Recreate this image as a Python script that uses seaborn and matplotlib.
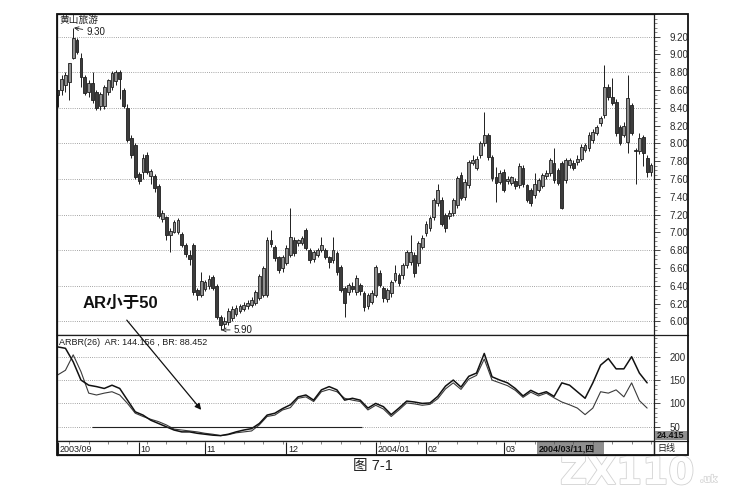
import numpy as np
import pandas as pd
import seaborn as sns
import matplotlib.pyplot as plt
import matplotlib.patheffects as pe
from matplotlib.patches import Rectangle, FancyArrowPatch
from matplotlib.lines import Line2D
from matplotlib.ticker import MultipleLocator

# daily candles, 2003/09 .. 2004/04 (黄山旅游)
opens = [8.60, 8.60, 8.66, 8.69, 8.96, 9.16, 8.96, 8.75, 8.58, 8.68,
         8.58, 8.42, 8.42, 8.58, 8.64, 8.70, 8.80, 8.60, 8.40, 8.06,
         7.98, 7.66, 7.68, 7.87, 7.64, 7.64, 7.52, 7.15, 7.17, 6.97,
         7.01, 7.00, 6.98, 6.86, 6.75, 6.86, 6.35, 6.30, 6.37, 6.40,
         6.50, 6.40, 6.05, 5.97, 5.99, 6.04, 6.08, 6.12, 6.14, 6.17,
         6.18, 6.21, 6.26, 6.30, 6.30, 6.92, 6.84, 6.72, 6.60, 6.66,
         6.75, 6.92, 6.88, 6.88, 7.03, 6.80, 6.70, 6.75, 6.80, 6.80,
         6.72, 6.69, 6.77, 6.61, 6.38, 6.33, 6.40, 6.33, 6.41, 6.32,
         6.17, 6.22, 6.30, 6.55, 6.38, 6.25, 6.32, 6.47, 6.52, 6.52,
         6.63, 6.67, 6.75, 6.66, 6.84, 6.99, 7.05, 7.17, 7.33, 7.36,
         7.20, 7.18, 7.22, 7.31, 7.65, 7.40, 7.53, 7.78, 7.73, 7.87,
         8.00, 8.09, 7.85, 7.62, 7.57, 7.68, 7.58, 7.56, 7.58, 7.53,
         7.73, 7.53, 7.48, 7.42, 7.48, 7.52, 7.63, 7.67, 7.78, 7.70,
         7.78, 7.59, 7.76, 7.78, 7.79, 7.83, 7.93, 7.95, 8.04, 8.12,
         8.23, 8.32, 8.64, 8.52, 8.47, 8.18, 8.10, 8.02, 8.43, 7.93,
         7.91, 8.07, 7.84, 7.68]
highs = [8.60, 8.77, 8.80, 8.91, 9.30, 9.19, 9.02, 8.77, 8.71, 8.80,
         8.60, 8.58, 8.66, 8.73, 8.81, 8.83, 8.83, 8.62, 8.44, 8.10,
         8.00, 7.68, 7.88, 7.90, 7.71, 7.66, 7.55, 7.25, 7.19, 7.05,
         7.14, 7.16, 7.00, 6.88, 6.80, 6.88, 6.38, 6.56, 6.47, 6.52,
         6.52, 6.42, 6.07, 6.05, 6.15, 6.17, 6.18, 6.20, 6.22, 6.24,
         6.27, 6.35, 6.53, 6.62, 6.95, 7.03, 6.86, 6.74, 6.75, 6.86,
         7.28, 6.95, 6.93, 6.96, 7.05, 6.82, 6.80, 6.82, 6.95, 6.82,
         6.74, 6.95, 6.79, 6.63, 6.40, 6.43, 6.44, 6.52, 6.43, 6.34,
         6.32, 6.35, 6.63, 6.58, 6.40, 6.38, 6.47, 6.63, 6.55, 6.66,
         6.80, 6.97, 6.78, 6.90, 6.97, 7.13, 7.19, 7.39, 7.55, 7.40,
         7.22, 7.25, 7.39, 7.64, 7.68, 7.60, 7.82, 7.87, 7.86, 8.03,
         8.35, 8.12, 7.87, 7.74, 7.70, 7.71, 7.63, 7.64, 7.61, 7.78,
         7.76, 7.55, 7.50, 7.67, 7.61, 7.67, 7.70, 7.84, 7.95, 7.73,
         7.80, 7.84, 7.84, 7.82, 7.87, 7.99, 8.00, 8.13, 8.16, 8.21,
         8.31, 8.88, 8.67, 8.74, 8.50, 8.21, 8.24, 8.77, 8.45, 7.95,
         8.12, 8.10, 7.87, 7.78]
lows = [8.41, 8.55, 8.58, 8.49, 8.95, 9.00, 8.63, 8.55, 8.52, 8.46,
        8.38, 8.38, 8.39, 8.55, 8.60, 8.66, 8.50, 8.40, 8.02, 7.84,
        7.60, 7.54, 7.60, 7.66, 7.54, 7.46, 7.16, 7.12, 6.92, 6.78,
        6.99, 6.98, 6.84, 6.72, 6.64, 6.30, 6.24, 6.27, 6.34, 6.37,
        6.35, 6.03, 5.90, 5.93, 5.96, 6.00, 6.06, 6.10, 6.12, 6.14,
        6.16, 6.18, 6.24, 6.28, 6.28, 6.84, 6.68, 6.55, 6.56, 6.63,
        6.72, 6.74, 6.85, 6.86, 6.80, 6.66, 6.67, 6.72, 6.78, 6.70,
        6.60, 6.66, 6.52, 6.33, 6.05, 6.30, 6.33, 6.30, 6.30, 6.12,
        6.14, 6.20, 6.28, 6.39, 6.22, 6.22, 6.28, 6.44, 6.40, 6.48,
        6.60, 6.64, 6.50, 6.62, 6.81, 6.96, 7.02, 7.14, 7.30, 7.07,
        7.00, 7.15, 7.19, 7.28, 7.36, 7.37, 7.50, 7.76, 7.70, 7.84,
        7.97, 7.82, 7.58, 7.34, 7.55, 7.45, 7.55, 7.53, 7.49, 7.50,
        7.51, 7.34, 7.30, 7.39, 7.45, 7.50, 7.60, 7.64, 7.56, 7.53,
        7.26, 7.56, 7.73, 7.70, 7.76, 7.80, 7.90, 7.92, 8.01, 8.09,
        8.20, 8.29, 8.49, 8.43, 8.08, 7.98, 8.07, 7.89, 8.09, 7.55,
        7.88, 7.75, 7.62, 7.63]
closes = [8.55, 8.73, 8.77, 8.90, 9.18, 9.03, 8.75, 8.57, 8.68, 8.49,
          8.40, 8.56, 8.64, 8.71, 8.79, 8.80, 8.72, 8.42, 8.04, 7.87,
          7.62, 7.58, 7.84, 7.68, 7.69, 7.50, 7.18, 7.22, 6.97, 7.02,
          7.12, 7.14, 6.86, 6.76, 6.70, 6.33, 6.30, 6.45, 6.44, 6.48,
          6.38, 6.05, 5.96, 6.00, 6.12, 6.14, 6.15, 6.17, 6.19, 6.21,
          6.24, 6.33, 6.51, 6.60, 6.92, 6.87, 6.71, 6.58, 6.72, 6.83,
          6.95, 6.77, 6.91, 6.94, 6.82, 6.69, 6.78, 6.80, 6.86, 6.72,
          6.67, 6.80, 6.56, 6.35, 6.21, 6.41, 6.36, 6.49, 6.34, 6.16,
          6.30, 6.32, 6.61, 6.41, 6.26, 6.35, 6.44, 6.55, 6.43, 6.63,
          6.78, 6.78, 6.54, 6.88, 6.94, 7.10, 7.16, 7.36, 7.48, 7.10,
          7.05, 7.22, 7.36, 7.61, 7.39, 7.57, 7.79, 7.81, 7.83, 8.00,
          8.09, 7.85, 7.61, 7.56, 7.67, 7.48, 7.60, 7.62, 7.52, 7.75,
          7.54, 7.36, 7.33, 7.54, 7.59, 7.65, 7.67, 7.81, 7.59, 7.56,
          7.28, 7.81, 7.81, 7.73, 7.83, 7.96, 7.98, 8.10, 8.13, 8.18,
          8.29, 8.64, 8.52, 8.46, 8.12, 8.01, 8.20, 8.51, 8.12, 7.91,
          8.06, 7.89, 7.68, 7.76]

# ARBR(26), read every second trading day
ar_vals = [221, 218, 189, 150, 139, 136, 132, 139, 132, 107,
           82, 75, 64, 57, 50, 43, 39, 39, 36, 34,
           32, 31, 34, 39, 43, 46, 57, 75, 79, 89,
           97, 114, 118, 107, 129, 136, 129, 107, 111, 107,
           90, 100, 93, 76, 90, 105, 103, 100, 101, 115,
           137, 150, 135, 158, 165, 207, 157, 150, 144, 132,
           116, 128, 120, 125, 115, 144, 139, 125, 111, 144,
           182, 196, 174, 174, 200, 165, 144]
br_vals = [161, 171, 204, 168, 122, 118, 122, 125, 118, 100,
           79, 72, 66, 61, 54, 45, 43, 41, 39, 36,
           34, 31, 33, 37, 39, 41, 54, 72, 75, 86,
           91, 111, 114, 104, 125, 130, 125, 111, 107, 104,
           86, 96, 88, 72, 86, 101, 99, 96, 98, 110,
           131, 144, 130, 152, 160, 195, 150, 144, 138, 128,
           113, 124, 116, 122, 112, 103, 97, 90, 76, 90,
           125, 122, 129, 114, 144, 106, 90]

month_pos = [0, 21, 38, 59, 82, 95, 115]
month_labels = ["2003/09", "10", "11", "12", "2004/01", "02", "03"]
price_ticks = [9.20, 9.00, 8.80, 8.60, 8.40, 8.20, 8.00, 7.80, 7.60,
               7.40, 7.20, 7.00, 6.80, 6.60, 6.40, 6.20, 6.00]
ind_ticks = [200, 150, 100, 50]

W, H = 741, 491


def fx(x):
    return x / W


def fy(y):
    return 1 - y / H


sns.set_theme(style="white")
plt.rcParams["font.family"] = ["Liberation Sans", "Noto Sans CJK SC", "DejaVu Sans"]

df = pd.DataFrame({"open": opens, "high": highs, "low": lows, "close": closes})
df["idx"] = np.arange(len(df))
ind = pd.DataFrame({"idx": np.arange(0, 2 * len(ar_vals), 2), "AR": ar_vals, "BR": br_vals})

fig = plt.figure(figsize=(W / 100, H / 100), dpi=100)
fig.patch.set_facecolor("white")

L, R = 57, 654
ax_p = fig.add_axes([fx(L), fy(335), (R - L) / W, (335 - 14) / H])
ax_i = fig.add_axes([fx(L), fy(441), (R - L) / W, (441 - 335) / H])
ax_d = fig.add_axes([fx(L), fy(455), (R - L) / W, (455 - 441) / H])
xlim = (-0.18, 153.77)
ink = "#1e1e1e"

# candles
up = df["close"] >= df["open"]
ax_p.vlines(df["idx"], df["low"], df["high"], color=ink, lw=0.7, zorder=2)
body_bottom = np.minimum(df["open"], df["close"])
body_h = np.maximum((df["close"] - df["open"]).abs(), 0.012)
ax_p.bar(df["idx"], body_h, bottom=body_bottom, width=0.72,
         color=np.where(up, "#909090", "#3c3c3c"), edgecolor=ink, linewidth=0.6, zorder=3)
for lvl in price_ticks[::2]:
    ax_p.axhline(lvl, color="#888888", lw=0.6, ls=(0, (1, 1.6)), zorder=1)

ax_p.set_xlim(*xlim)
ax_p.set_ylim(5.848, 9.455)
ax_p.set_xticks([])
ax_p.set_yticks(price_ticks)
ax_p.set_yticklabels([f"{t:.2f}" for t in price_ticks])
ax_p.yaxis.set_minor_locator(MultipleLocator(0.05))

ax_p.annotate("9.30", xy=(4.2, 9.30), xytext=(7.3, 9.255), fontsize=7, color=ink,
              va="center", ha="left",
              arrowprops=dict(arrowstyle="->", lw=0.6, color=ink, shrinkA=0, shrinkB=0))
ax_p.annotate("5.90", xy=(42.2, 5.905), xytext=(45.3, 5.905), fontsize=7, color=ink,
              va="center", ha="left",
              arrowprops=dict(arrowstyle="->", lw=0.6, color=ink, shrinkA=0, shrinkB=0))

# ARBR indicator
sns.lineplot(data=ind, x="idx", y="BR", ax=ax_i, color="#3a3a3a", lw=0.8)
sns.lineplot(data=ind, x="idx", y="AR", ax=ax_i, color="#111111", lw=1.1)
for lvl in ind_ticks:
    ax_i.axhline(lvl, color="#888888", lw=0.6, ls=(0, (1, 1.6)), zorder=1)
ax_i.hlines(50, 8.9, 78.5, color="#222222", lw=0.8)
ax_i.set_xlim(*xlim)
ax_i.set_ylim(19.5, 246.5)
ax_i.set_xticks([])
ax_i.set_yticks(ind_ticks)
ax_i.set_xlabel("")
ax_i.set_ylabel("")
ax_i.text(0.003, 0.97, "ARBR(26)  AR: 144.156 , BR: 88.452", transform=ax_i.transAxes,
          fontsize=6.5, color=ink, va="top", ha="left")

for ax in (ax_p, ax_i):
    ax.set_ylabel("")
    ax.tick_params(axis="y", which="both", left=False, labelleft=False,
                   right=True, labelright=True)
    ax.tick_params(axis="y", which="major", direction="out", length=4, width=0.6,
                   pad=7, labelsize=7, colors="#2a2a2a")
    ax.tick_params(axis="y", which="minor", direction="out", length=2, width=0.5,
                   colors="#555555")
    for sp in ax.spines.values():
        sp.set_color(ink)
        sp.set_linewidth(0.9)
ax_i.yaxis.set_minor_locator(MultipleLocator(10))

# date strip
ax_d.set_xlim(*xlim)
ax_d.set_ylim(0, 1)
ax_d.set_xticks([])
ax_d.set_yticks([])
for sp in ax_d.spines.values():
    sp.set_color(ink)
    sp.set_linewidth(0.9)
for pos, lab in zip(month_pos, month_labels):
    ax_d.vlines(pos, 0.05, 0.95, color=ink, lw=0.8)
    ax_d.text(pos + 0.4, 0.42, lab, fontsize=6.5, color=ink, va="center", ha="left")
for pos in range(3, 154, 5):
    ax_d.vlines(pos, 0.82, 1.0, color="#555555", lw=0.5)
ax_d.add_patch(Rectangle((123.6, 0.06), 17.2, 0.88, facecolor="#8f8f8f", edgecolor="none"))
ax_d.text(124.0, 0.45, "2004/03/11,四", fontsize=6.5, color="#111111",
          fontweight="bold", va="center", ha="left")

# right strip and frame
for yy in (335, 441):
    fig.add_artist(Line2D([fx(654), fx(688)], [fy(yy), fy(yy)], color=ink, lw=0.9))
fig.add_artist(Line2D([fx(654), fx(654)], [fy(441), fy(455)], color=ink, lw=0.9))
fig.add_artist(Rectangle((fx(655), fy(440)), 32 / W, 9 / H, transform=fig.transFigure,
                         facecolor="#8f8f8f", edgecolor="none", zorder=5))
fig.text(fx(684), fy(435.5), "24.415", fontsize=6.5, color="#111111", fontweight="bold",
         ha="right", va="center", zorder=6)
fig.text(fx(657), fy(448), "日线", fontsize=6.5, color=ink, ha="left", va="center")
fig.add_artist(Rectangle((fx(56.5), fy(455)), (688 - 56.5) / W, (455 - 14) / H,
                         transform=fig.transFigure, fill=False, edgecolor="#111111",
                         lw=1.3, zorder=7))

fig.text(fx(59), fy(19.5), "黄山旅游", fontsize=7, color=ink, ha="left", va="center")

# annotation for the low AR reading
fig.text(fx(83), fy(303), "AR小于50", fontsize=12, fontweight="bold", color="#111111",
         ha="left", va="center")
fig.add_artist(FancyArrowPatch((fx(125), fy(318)), (fx(203), fy(412)),
                               transform=fig.transFigure, arrowstyle="-|>",
                               mutation_scale=9, lw=0.9, color="#111111", zorder=8))

fig.text(fx(373), fy(466), "图 7-1", fontsize=10.5, color="#222222", ha="center", va="center")

# faint scan watermark below the frame
wm = fig.text(fx(560), fy(474), "ZX110", fontsize=27, fontweight="bold", color="white",
              family="DejaVu Sans", ha="left", va="center", zorder=1)
wm.set_path_effects([pe.withStroke(linewidth=1.2, foreground="#d2d2d2")])
wm2 = fig.text(fx(700), fy(479), ".uk", fontsize=7, fontweight="bold", color="white",
               family="DejaVu Sans", ha="left", va="center", zorder=1)
wm2.set_path_effects([pe.withStroke(linewidth=1.0, foreground="#d2d2d2")])

fig.savefig("out.png", dpi=100, facecolor="white")
